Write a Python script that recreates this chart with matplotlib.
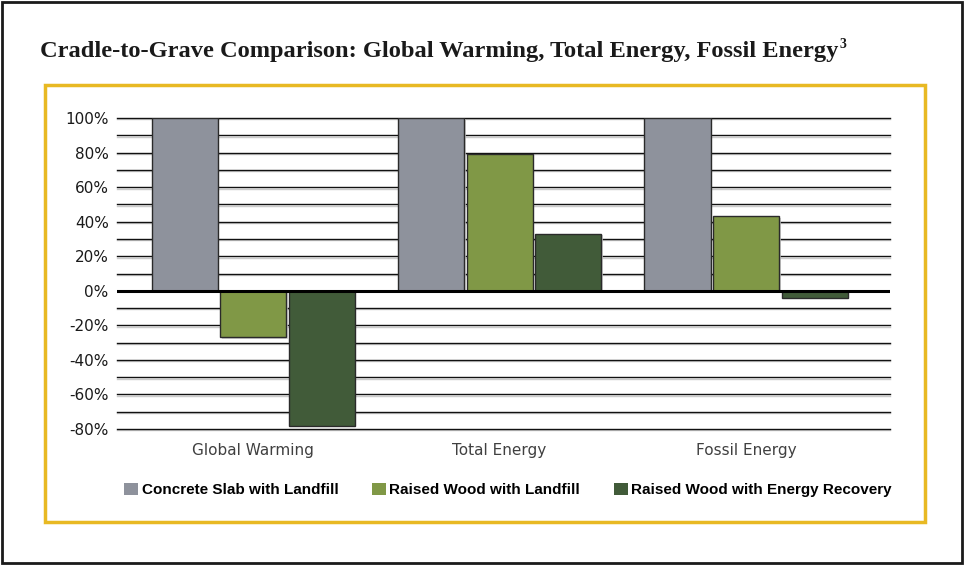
import matplotlib.pyplot as plt
import matplotlib.patheffects as pe
from matplotlib.patches import Rectangle
import numpy as np

categories = ['Global Warming', 'Total Energy', 'Fossil Energy']
series_names = ['Concrete Slab with Landfill', 'Raised Wood with Landfill',
                'Raised Wood with Energy Recovery']
concrete = [100, 100, 100]
wood_landfill = [-27, 79, 43]
wood_recovery = [-78, 33, -4]
colors = ['#8e929c', '#809846', '#415b39']
yticks = [-80, -60, -40, -20, 0, 20, 40, 60, 80, 100]

fig = plt.figure(figsize=(9.64, 5.65), dpi=100)

# outer black frame and yellow box
fig.add_artist(Rectangle((0.002, 0.003), 0.996, 0.994, transform=fig.transFigure,
                         fill=False, edgecolor='#1a1a1a', linewidth=2))
fig.add_artist(Rectangle((45 / 964, 1 - 522 / 565), 880 / 964, 437 / 565,
                         transform=fig.transFigure, fill=False,
                         edgecolor='#e8b923', linewidth=2.5))

title = fig.text(40 / 964, 1 - 51 / 565,
                 'Cradle-to-Grave Comparison: Global Warming, Total Energy, Fossil Energy',
                 fontsize=17.6, fontweight='bold', family='Liberation Serif',
                 color='#1a1a1a', va='center', ha='left')
fig.canvas.draw()
bb = title.get_window_extent()
fig.text(bb.x1 / 964 + 0.001, 1 - 45 / 565, '3', fontsize=10, fontweight='bold',
         family='Liberation Serif', color='#1a1a1a', va='center', ha='left')

ax = fig.add_axes([117 / 964, 1 - 429 / 565, 773 / 964, 311 / 565])

x = np.arange(len(categories))
w = 0.268
step = 0.278
all_series = [concrete, wood_landfill, wood_recovery]
for i, (vals, col, name) in enumerate(zip(all_series, colors, series_names)):
    bars = ax.bar(x + (i - 1) * step, vals, width=w, color=col,
                  edgecolor='#2a2a2a', linewidth=1, label=name, zorder=3)
    for b in bars:
        b.set_path_effects([pe.SimplePatchShadow(offset=(1.2, -0.8), shadow_rgbFace='#c8c8c8', alpha=0.8),
                            pe.Normal()])

# grid lines every 10% with a soft shadow
for yv in range(-80, 101, 10):
    if yv == 0:
        continue
    ax.axhline(yv, color='#111111', linewidth=1, zorder=1, clip_on=False,
               path_effects=[pe.SimpleLineShadow(offset=(0, -1), shadow_color='#b5b5b5', alpha=0.7),
                             pe.Normal()])
ax.axhline(0, color='black', linewidth=2.2, zorder=4)

ax.set_xlim(-0.552, 2.584)
ax.set_ylim(-80, 100)
ax.set_yticks(yticks)
ax.set_yticklabels(['%d%%' % v for v in yticks], fontsize=11, color='#1a1a1a')
ax.set_xticks(x)
ax.set_xticklabels(categories, fontsize=11, color='#404040')
ax.tick_params(axis='both', length=0)
ax.tick_params(axis='x', pad=10)
ax.tick_params(axis='y', pad=6)
for s in ax.spines.values():
    s.set_visible(False)

leg = fig.legend(loc='center', bbox_to_anchor=(508 / 964, 1 - 490 / 565), ncol=3,
                 frameon=False, handlelength=0.9, handleheight=0.9,
                 handletextpad=0.25, columnspacing=2.2,
                 prop={'family': 'Liberation Sans', 'weight': 'bold', 'size': 11})
for h in leg.legend_handles:
    h.set_edgecolor('none')
    h.set_path_effects([])

fig.savefig('out.png', dpi=100)
